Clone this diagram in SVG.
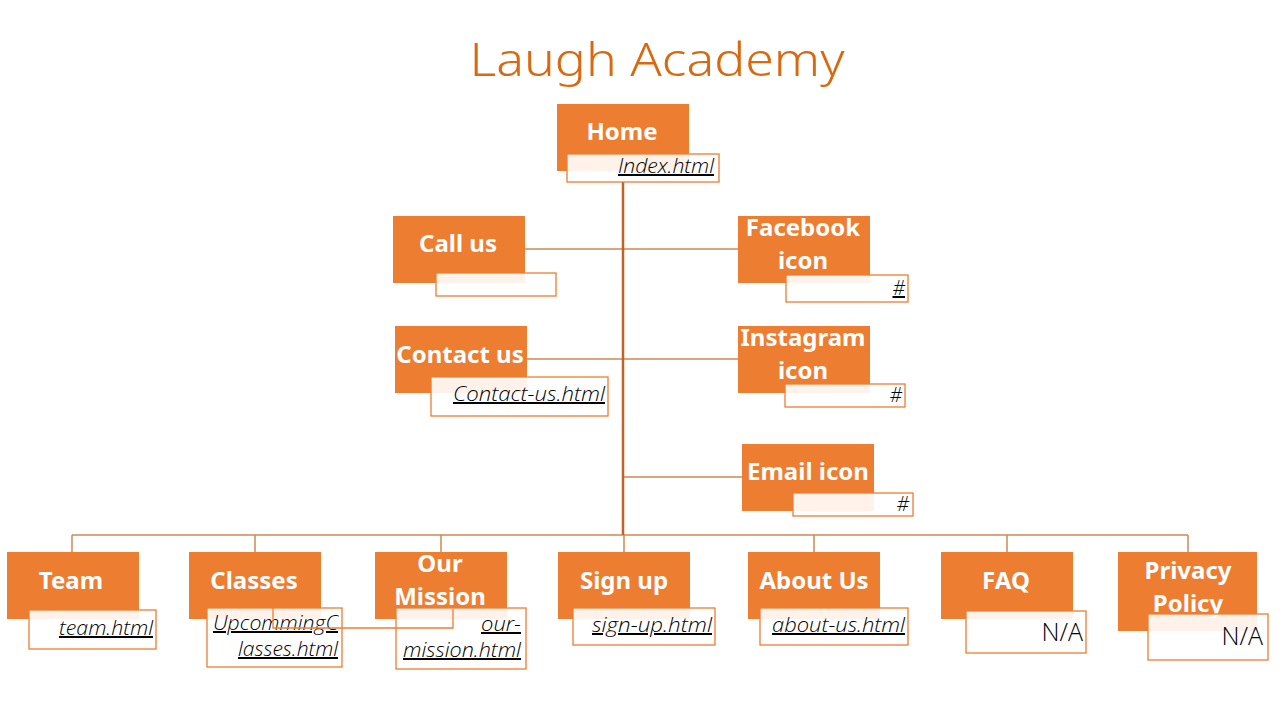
<svg xmlns="http://www.w3.org/2000/svg" width="1280" height="720" viewBox="0 0 1280 720">
<style>
.box{fill:#ED7D31}
.tb{fill:#fff;fill-opacity:0.9;stroke:#ED7D31;stroke-width:1.3}
.lbl{font-family:"Noto Sans",sans-serif;font-weight:bold;font-size:24px;fill:#fff;text-anchor:middle}
.lnk{font-family:"Open Sans",sans-serif;font-style:italic;font-weight:300;font-size:20px;fill:#000;text-anchor:end;text-decoration:underline}
.na{font-family:"Open Sans",sans-serif;font-weight:300;font-size:25px;fill:#000;text-anchor:end}
.hash{font-family:"Open Sans",sans-serif;font-style:italic;font-weight:300;font-size:20px;fill:#000;text-anchor:end}
.ln{stroke:#D08850;stroke-width:1.5;fill:none}
</style>
<rect width="1280" height="720" fill="#fff"/>
<text x="657" y="76" font-family="Noto Sans, sans-serif" font-weight="300" font-size="45" fill="#D9690E" text-anchor="middle" textLength="375" lengthAdjust="spacingAndGlyphs">Laugh Academy</text>
<g id="connectors">
<line class="ln" x1="525" y1="249" x2="738" y2="249"/>
<line class="ln" x1="527" y1="359" x2="738" y2="359"/>
<line class="ln" x1="623" y1="477" x2="742" y2="477"/>
<line class="ln" x1="72" y1="535" x2="1188" y2="535"/>
<line class="ln" x1="72" y1="535" x2="72" y2="552"/>
<line class="ln" x1="255" y1="535" x2="255" y2="552"/>
<line class="ln" x1="441" y1="535" x2="441" y2="552"/>
<line class="ln" x1="624" y1="535" x2="624" y2="552"/>
<line class="ln" x1="814" y1="535" x2="814" y2="552"/>
<line class="ln" x1="1007" y1="535" x2="1007" y2="552"/>
<line class="ln" x1="1188" y1="535" x2="1188" y2="552"/>
<line x1="623" y1="182" x2="623" y2="535" stroke="#C0622A" stroke-width="2.5"/>
</g>
<g id="home"><rect class="box" x="557" y="104" width="132" height="67"/><text class="lbl" x="622" y="140">Home</text><rect class="tb" x="567" y="154" width="152" height="28"/><text class="lnk" x="714" y="173" textLength="96" lengthAdjust="spacingAndGlyphs">Index.html</text></g>
<g id="callus"><rect class="box" x="393" y="216" width="132" height="67"/><text class="lbl" x="458" y="252">Call us</text><rect class="tb" x="436" y="273" width="120" height="23"/></g>
<g id="facebook"><rect class="box" x="738" y="216" width="132" height="67"/><text class="lbl" x="803" y="236">Facebook</text><text class="lbl" x="803" y="269">icon</text><rect class="tb" x="786" y="275" width="122" height="27"/><text class="lnk" x="905" y="295">#</text></g>
<g id="contactus"><rect class="box" x="395" y="326" width="132" height="67"/><text class="lbl" x="460" y="363">Contact us</text><rect class="tb" x="431" y="377" width="177" height="39"/><text class="lnk" x="605" y="401" textLength="152" lengthAdjust="spacingAndGlyphs">Contact-us.html</text></g>
<g id="instagram"><rect class="box" x="738" y="326" width="132" height="67"/><text class="lbl" x="803" y="346">Instagram</text><text class="lbl" x="803" y="379">icon</text><rect class="tb" x="785" y="384" width="120" height="23"/><text class="hash" x="902" y="402">#</text></g>
<g id="email"><rect class="box" x="742" y="444" width="132" height="67"/><text class="lbl" x="808" y="480">Email icon</text><rect class="tb" x="793" y="493" width="120" height="23"/><text class="hash" x="909" y="511">#</text></g>
<g id="team"><rect class="box" x="7" y="552" width="132" height="67"/><text class="lbl" x="71" y="589">Team</text><rect class="tb" x="29" y="610" width="127" height="39"/><text class="lnk" x="153" y="635" textLength="94" lengthAdjust="spacingAndGlyphs">team.html</text></g>
<g id="classes"><rect class="box" x="189" y="552" width="132" height="67"/><text class="lbl" x="254" y="589">Classes</text><rect class="tb" x="207" y="608" width="135" height="59"/><text class="lnk" x="338" y="630" textLength="125" lengthAdjust="spacingAndGlyphs">UpcommingC</text><text class="lnk" x="338" y="656" textLength="100" lengthAdjust="spacingAndGlyphs">lasses.html</text></g>
<g id="ourmission"><rect class="box" x="375" y="552" width="132" height="67"/><text class="lbl" x="440" y="572">Our</text><text class="lbl" x="440" y="605">Mission</text><rect class="tb" x="396" y="608" width="130" height="61"/><text class="lnk" x="521" y="631" textLength="40" lengthAdjust="spacingAndGlyphs">our-</text><text class="lnk" x="521" y="657" textLength="118" lengthAdjust="spacingAndGlyphs">mission.html</text></g>
<g id="signup"><rect class="box" x="558" y="552" width="132" height="67"/><text class="lbl" x="624" y="589">Sign up</text><rect class="tb" x="573" y="608" width="142" height="37"/><text class="lnk" x="712" y="632" textLength="120" lengthAdjust="spacingAndGlyphs">sign-up.html</text></g>
<g id="aboutus"><rect class="box" x="748" y="552" width="132" height="67"/><text class="lbl" x="814" y="589">About Us</text><rect class="tb" x="760" y="608" width="148" height="37"/><text class="lnk" x="905" y="632" textLength="133" lengthAdjust="spacingAndGlyphs">about-us.html</text></g>
<g id="faq"><rect class="box" x="941" y="552" width="132" height="67"/><text class="lbl" x="1006" y="589">FAQ</text><rect class="tb" x="966" y="611" width="120" height="42"/><text class="na" x="1083" y="641">N/A</text></g>
<g id="privacy"><rect class="box" x="1118" y="552" width="139" height="79"/><text class="lbl" x="1188" y="579">Privacy</text><text class="lbl" x="1188" y="612">Policy</text><rect class="tb" x="1148" y="614" width="120" height="46"/><text class="na" x="1263" y="645">N/A</text></g>
<g id="classes-mission-link"><polyline points="273,607 273,628 453,628 453,609" fill="none" stroke="#ED7D31" stroke-width="1.3"/></g>
</svg>
